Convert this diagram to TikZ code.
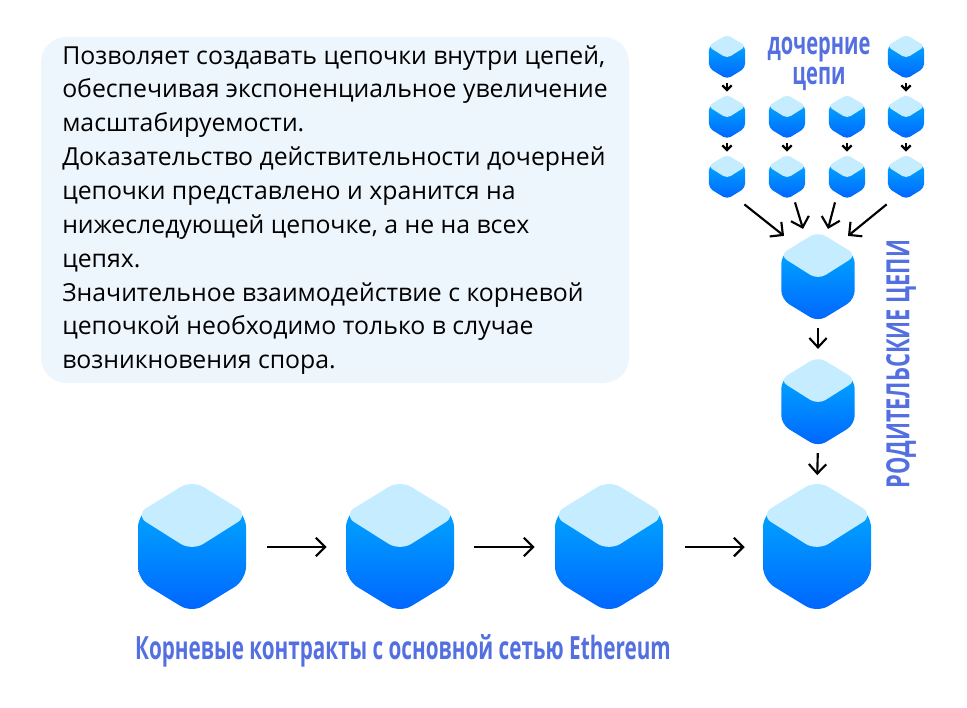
\documentclass[tikz,border=0pt]{standalone}
\usepackage{fontspec}
\usepackage{graphicx}
\setmainfont{Open Sans}
\usetikzlibrary{arrows.meta,calc}
\definecolor{topface}{HTML}{C5ECFF}
\definecolor{cubehi}{HTML}{00B4FF}
\definecolor{cubelo}{HTML}{0064FF}
\definecolor{panel}{HTML}{EEF6FD}
\definecolor{lab}{HTML}{5470E0}
\tikzset{
  cubebox/.style={inner sep=0pt,minimum width=#1*81pt,minimum height=#1*94.5pt},
  bigarrow/.style={line width=1.6pt,-{Straight Barb[length=7pt,width=14pt,line width=1.6pt]}},
  midarrow/.style={line width=1.6pt,-{Straight Barb[length=7pt,width=13pt,line width=1.6pt]}},
  smallarrow/.style={line width=1.9pt,-{Straight Barb[length=3.5pt,width=7pt,line width=1.7pt]}},
  lbl/.style={text=lab,font=\bfseries,inner sep=0pt},
}
\newcommand{\cubeat}[4]{%
  \begin{scope}[shift={(#2,#3)},x=#4*.75pt,y=-#4*.75pt,rounded corners=#4*10pt]
    \path[top color=cubehi,bottom color=cubelo]
      (0,-64) -- (54,-33) -- (54,33) -- (0,66) -- (-54,33) -- (-54,-33) -- cycle;
    \fill[topface] (0,-67) -- (57,-32) -- (0,4) -- (-57,-32) -- cycle;
  \end{scope}
  \node[cubebox=#4] (#1) at (#2,#3) {};}
\begin{document}
\begin{tikzpicture}[x=.75pt,y=-.75pt]
\useasboundingbox (0,0) rectangle (967,707);
\fill[white] (0,0) rectangle (967,707);
\node[fill=panel,rounded corners=19pt,minimum width=441pt,minimum height=259.5pt,inner sep=0pt] (panelbox) at (335,210) {};
\node[anchor=north west,inner sep=0pt,align=left,font=\fontsize{18.6pt}{25.4pt}\selectfont] (bodytext) at (62,45) {%
Позволяет создавать цепочки внутри цепей,\\
обеспечивая экспоненциальное увеличение\\
масштабируемости.\\
Доказательство действительности дочерней\\
цепочки представлено и хранится на\\
нижеследующей цепочке, а не на всех\\
цепях.\\
Значительное взаимодействие с корневой\\
цепочкой необходимо только в случае\\
возникновения спора.};
% big row
\cubeat{b1}{192}{547}{1}
\cubeat{b2}{400}{547}{1}
\cubeat{b3}{609}{547}{1}
\cubeat{b4}{817}{547}{1}
% parents
\cubeat{m1}{818}{277}{.68}
\cubeat{m2}{818}{402}{.68}
% children
\cubeat{a1}{727}{57}{.335}
\cubeat{a4}{906}{57}{.335}
\cubeat{c1}{727}{117}{.335}
\cubeat{c2}{787}{117}{.335}
\cubeat{c3}{847}{117}{.335}
\cubeat{c4}{906}{117}{.335}
\cubeat{d1}{727}{177}{.335}
\cubeat{d2}{787}{177}{.335}
\cubeat{d3}{847}{177}{.335}
\cubeat{d4}{906}{177}{.335}
% arrows
\draw[bigarrow,shorten <=15.75pt,shorten >=14.25pt] (b1.east) -- (b2.west);
\draw[bigarrow,shorten <=15pt,shorten >=15pt] (b2.east) -- (b3.west);
\draw[bigarrow,shorten <=16.5pt,shorten >=13.5pt] (b3.east) -- (b4.west);
\draw[midarrow,shorten <=6pt,shorten >=7.5pt] (m1.south) -- (m2.north);
\draw[midarrow,shorten <=6pt,shorten >=6.5pt] (m2.south) -- (b4.north);
\foreach \p/\q in {a1/c1,a4/c4,c1/d1,c2/d2,c3/d3,c4/d4}{
  \draw[smallarrow,shorten <=3.5pt,shorten >=3pt] (\p.south) -- (\q.north);
}
\draw[bigarrow] ($(d1.south east)+(-1,6)$) -- ($(m1.north west)+(3,2)$);
\draw[bigarrow] ($(d2.south)+(8,4)$) -- ($(m1.north west)+(22,-5)$);
\draw[bigarrow] ($(d3.south)+(-12,4)$) -- ($(m1.north east)+(-27,-5)$);
\draw[bigarrow] ($(d4.south west)+(-1,6)$) -- ($(m1.north east)+(-7,2)$);
% labels
\node[lbl] (t1) at (819,50) {\scalebox{.64}[1]{\fontsize{23.5pt}{26pt}\selectfont дочерние}};
\node[lbl] (t2) at (819,79) {\scalebox{.64}[1]{\fontsize{23.5pt}{26pt}\selectfont цепи}};
\node[lbl,rotate=90] (t3) at (901,364) {\scalebox{.683}[1]{\fontsize{24pt}{26pt}\selectfont РОДИТЕЛЬСКИЕ ЦЕПИ}};
\node[lbl] (t4) at (403,651) {\scalebox{.647}[1]{\fontsize{24pt}{26pt}\selectfont Корневые контракты с основной сетью Ethereum}};
\end{tikzpicture}
\end{document}
